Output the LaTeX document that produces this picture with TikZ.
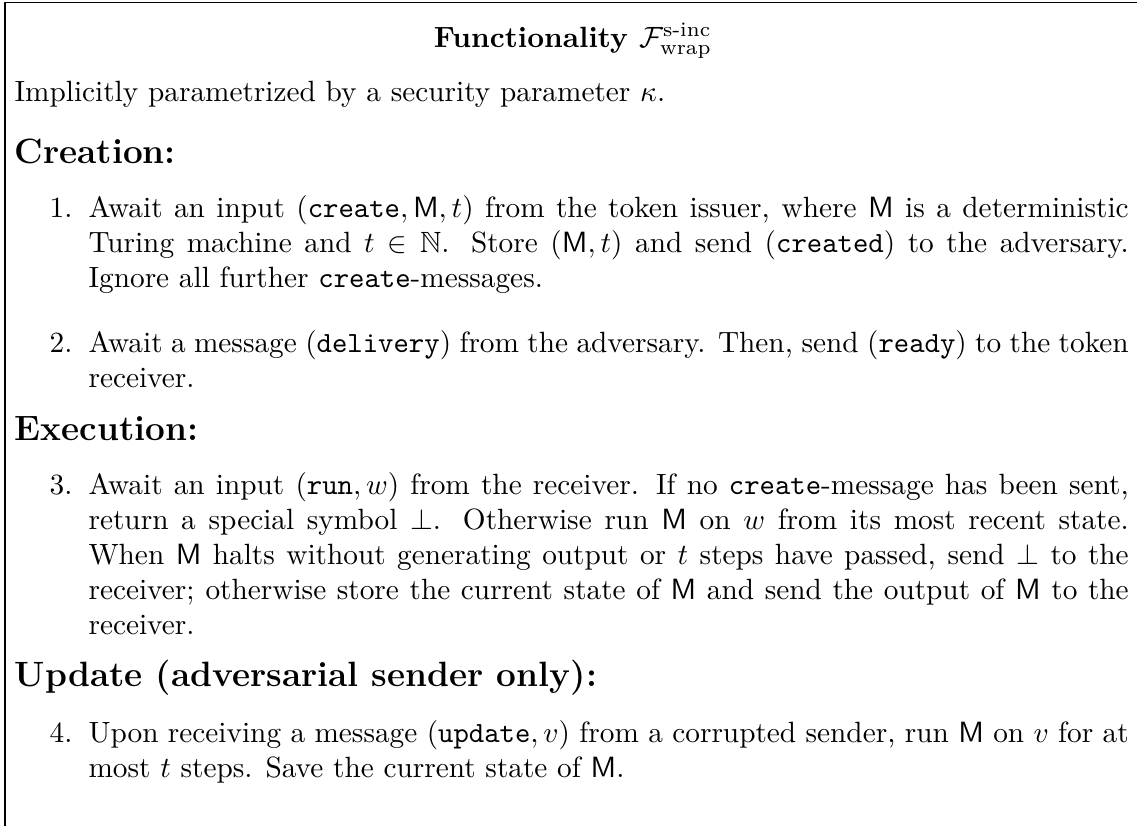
\documentclass[tikz,border=0pt]{standalone}
\usepackage{amsmath,amssymb}
\newcommand{\mach}{\mathsf{M}}
\tikzset{
  frameline/.style={line width=0.6pt},
  txt/.style={inner sep=0pt, anchor=base west},
  para/.style={txt, text width=355pt, align=justify},
  head/.style={txt, font=\large\bfseries},
  num/.style={inner sep=0pt, anchor=base east},
}
\begin{document}
\begin{tikzpicture}[x=0.3413pt, y=-0.3413pt]
  \useasboundingbox (0,0) rectangle (1137,826);
  % open frame: left and top rules
  \coordinate (fb) at (5,826);
  \coordinate (ftl) at (5,2.5);
  \coordinate (ftr) at (1137,2.5);
  \draw[frameline] (fb) -- (ftl) -- (ftr);

  \node[inner sep=0pt, anchor=base] (title) at (573,47)
    {\bfseries Functionality $\mathcal{F}^{\textnormal{s-inc}}_{\textnormal{wrap}}$};
  \node[txt] (intro) at (14,101)
    {Implicitly parametrized by a security parameter $\kappa$.};

  \node[head] (hcreate) at (14,163) {Creation:};
  \node[num] (n1) at (73,217) {1.};
  \node[para] (i1) at (88,217) {Await an input $(\texttt{create},\mach,t)$ from the token issuer, where $\mach$ is a deterministic\linebreak
    Turing machine and $t\in\mathbb{N}$. Store $(\mach,t)$ and send $(\texttt{created})$ to the adversary.\linebreak
    Ignore all further \texttt{create}-messages.};
  \node[num] (n2) at (73,352) {2.};
  \node[para] (i2) at (88,352) {Await a message $(\texttt{delivery})$ from the adversary. Then, send $(\texttt{ready})$ to the token\linebreak
    receiver.};

  \node[head] (hexec) at (14,440) {Execution:};
  \node[num] (n3) at (73,494) {3.};
  \node[para] (i3) at (88,494) {Await an input $(\texttt{run},w)$ from the receiver. If no \texttt{create}-message has been sent,\linebreak
    return a special symbol $\bot$. Otherwise run $\mach$ on $w$ from its most recent state.\linebreak
    When $\mach$ halts without generating output or $t$ steps have passed, send $\bot$ to the\linebreak
    receiver; otherwise store the current state of $\mach$ and send the output of $\mach$ to the\linebreak
    receiver.};

  \node[head] (hupdate) at (14,686) {Update (adversarial sender only):};
  \node[num] (n4) at (73,742) {4.};
  \node[para] (i4) at (88,742) {Upon receiving a message $(\texttt{update},v)$ from a corrupted sender, run $\mach$ on $v$ for at\linebreak
    most $t$ steps. Save the current state of $\mach$.};
\end{tikzpicture}
\end{document}
